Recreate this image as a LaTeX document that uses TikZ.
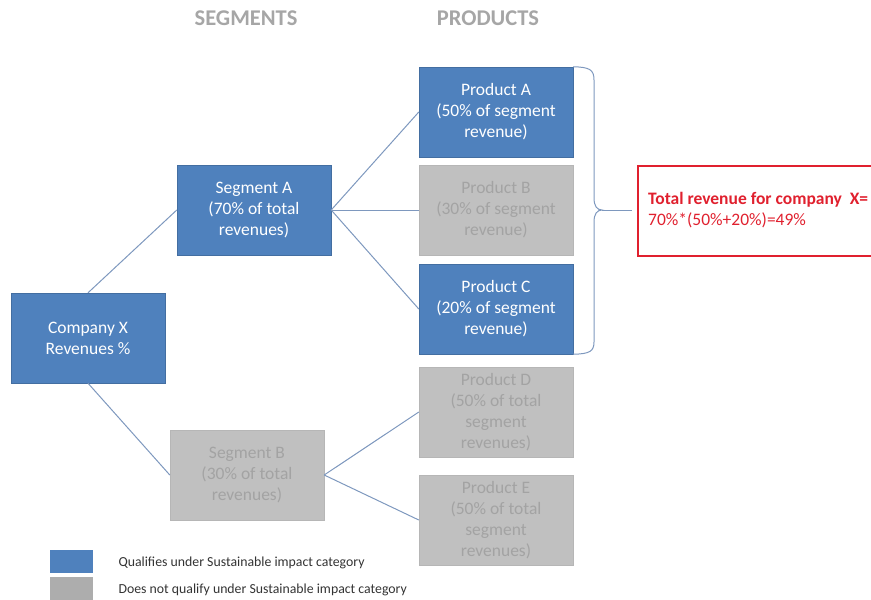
\documentclass[tikz,border=0pt]{standalone}
\usepackage{fontspec}
\setmainfont{Carlito}
\definecolor{boxblue}{HTML}{4F81BD}
\definecolor{boxgrey}{HTML}{C0C0C0}
\definecolor{greytext}{HTML}{A3A3A3}
\definecolor{headgrey}{HTML}{A6A6A6}
\definecolor{linkblue}{HTML}{7E98BE}
\definecolor{redline}{HTML}{E0202E}
\begin{document}
\begin{tikzpicture}[x=1pt,y=-1pt,
  qbox/.style={fill=boxblue,draw=boxblue!85!black,line width=0.4pt,minimum width=154pt,minimum height=90pt,inner sep=0pt,align=center,text=white,font=\fontsize{17.5}{21}\selectfont},
  nbox/.style={fill=boxgrey,draw=boxgrey!95!black,line width=0.4pt,minimum width=154pt,minimum height=90pt,inner sep=0pt,align=center,text=greytext,font=\fontsize{17.5}{21}\selectfont},
  head/.style={text=headgrey,font=\fontsize{22.5}{24}\selectfont\bfseries},
  link/.style={draw=linkblue,line width=1pt},
  legtext/.style={anchor=west,font=\fontsize{13.8}{15}\selectfont,text=black!80}]
\useasboundingbox (0,0) rectangle (871,600);
\node[head] (hs) at (246,18) {SEGMENTS};
\node[head] (hp) at (488,18) {PRODUCTS};
\node[qbox] (cx) at (88,338) {Company X\\Revenues \%};
\node[qbox] (sa) at (254,210) {Segment A\\(70\% of total\\revenues)};
\node[nbox] (sb) at (247,475) {Segment B\\(30\% of total\\revenues)};
\node[qbox] (pa) at (496,112) {Product A\\(50\% of segment\\revenue)};
\node[nbox] (pb) at (496,210) {Product B\\(30\% of segment\\revenue)};
\node[qbox] (pc) at (496,309) {Product C\\(20\% of segment\\revenue)};
\node[nbox] (pd) at (496,412) {Product D\\(50\% of total\\segment\\revenues)};
\node[nbox] (pe) at (496,520) {Product E\\(50\% of total\\segment\\revenues)};
\draw[link] (cx.north) -- (sa.west);
\draw[link] (cx.south) -- (sb.west);
\draw[link] (sa.east) -- (pa.west);
\draw[link] (sa.east) -- (pb.west);
\draw[link] (sa.east) -- (pc.west);
\draw[link] (sb.east) -- (pd.west);
\draw[link] (sb.east) -- (pe.west);
% brace
\coordinate (btip) at (602,210);
\coordinate (bend) at (632,210);
\draw[draw=linkblue,line width=1pt] (pa.north east) .. controls (590,67) and (594,70) .. (594,80) -- (594,198) .. controls (594,206) and (597,210) .. (btip) .. controls (597,210) and (594,214) .. (594,222) -- (594,342) .. controls (594,351) and (590,354) .. (pc.south east);
\draw[link] (btip) -- (bend);
% red box
\node[draw=redline,line width=1.5pt,minimum width=250pt,minimum height=90pt,anchor=north west,inner sep=0pt] (rb) at (637,165) {};
\node[anchor=west,text=redline,align=left,font=\fontsize{17.5}{21}\selectfont,inner sep=0pt] (rt) at (648,210) {\textbf{Total revenue for company\ \ X=}\\70\%*(50\%+20\%)=49\%};
% legend
\node[fill=boxblue,minimum width=43pt,minimum height=23pt,inner sep=0pt] (lq) at (71.5,561.5) {};
\node[fill=boxgrey!90!black,minimum width=43pt,minimum height=23pt,inner sep=0pt] (ln) at (71.5,588.5) {};
\node[legtext] (lqt) at (115,563) {Qualifies under Sustainable impact category};
\node[legtext] (lnt) at (115,590) {Does not qualify under Sustainable impact category};
\end{tikzpicture}
\end{document}
